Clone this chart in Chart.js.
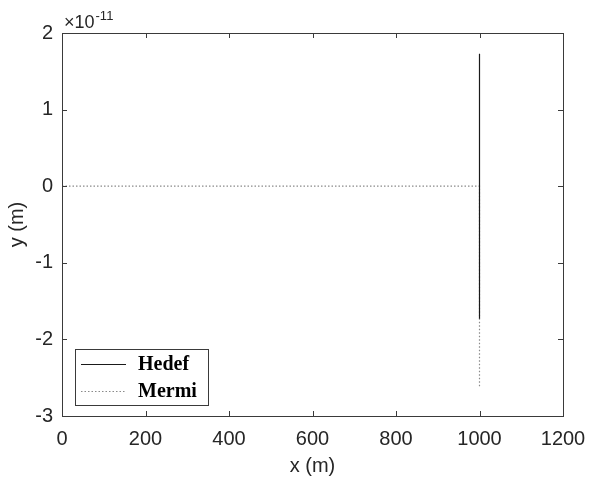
<!DOCTYPE html>
<html><head><meta charset="utf-8">
<script src="https://cdn.jsdelivr.net/npm/chart.js@4/dist/chart.umd.min.js"></script>
<style>html,body{margin:0;padding:0;background:#fff;}#wrap{width:590px;height:488px;}</style>
</head><body><div id="wrap"><canvas id="c" width="590" height="488"></canvas></div>
<script>
const seriesNames = ['Hedef', 'Mermi'];
const hedefX = [1000, 1000];
const hedefY = [1.73e-11, -1.73e-11];
const mermiX = [0, 1000, 1000];
const mermiY = [0, 0, -2.63e-11];
const xTicks = [0, 200, 400, 600, 800, 1000, 1200];
const yTicks = [-3e-11, -2e-11, -1e-11, 0, 1e-11, 2e-11];
const yExponent = -11;

const toPts = (xs, ys) => xs.map((x, i) => ({x: x, y: ys[i]}));
const SANS = '"Liberation Sans", Arial, sans-serif';

const boxPlugin = {
  id: 'box',
  afterDraw(chart) {
    const ctx = chart.ctx, a = chart.chartArea;
    const xs = chart.scales.x, ys = chart.scales.y;
    ctx.save();
    ctx.strokeStyle = '#3a3a3a';
    ctx.lineWidth = 1;
    ctx.strokeRect(Math.round(a.left) + 0.5, Math.round(a.top) + 0.5,
      Math.round(a.right - a.left), Math.round(a.bottom - a.top));
    const L = 5;
    ctx.beginPath();
    xTicks.forEach(v => {
      const p = Math.round(xs.getPixelForValue(v)) + 0.5;
      ctx.moveTo(p, a.bottom); ctx.lineTo(p, a.bottom - L);
      ctx.moveTo(p, a.top); ctx.lineTo(p, a.top + L);
    });
    yTicks.forEach(v => {
      const p = Math.round(ys.getPixelForValue(v)) + 0.5;
      ctx.moveTo(a.left, p); ctx.lineTo(a.left + L, p);
      ctx.moveTo(a.right, p); ctx.lineTo(a.right - L, p);
    });
    ctx.stroke();
    // exponent label
    ctx.fillStyle = '#262626';
    ctx.textBaseline = 'alphabetic';
    ctx.textAlign = 'left';
    ctx.font = '18px ' + SANS;
    const bx = a.left + 2, by = 28;
    ctx.fillText('\u00d710', bx, by);
    const w = ctx.measureText('\u00d710').width;
    ctx.font = '13px ' + SANS;
    ctx.fillText(String(yExponent), bx + w + 1, by - 8);
    // legend
    const lx = 75, ly = 349, lw = 133, lh = 56;
    ctx.fillStyle = '#fff';
    ctx.fillRect(lx, ly, lw, lh);
    ctx.strokeStyle = '#3a3a3a';
    ctx.lineWidth = 1;
    ctx.strokeRect(lx + 0.5, ly + 0.5, lw, lh);
    const rows = [364, 391];
    chart.data.datasets.forEach((ds, i) => {
      ctx.beginPath();
      ctx.strokeStyle = ds.borderColor;
      ctx.lineWidth = ds.borderWidth;
      ctx.setLineDash(ds.borderDash || []);
      ctx.moveTo(81, rows[i] + 0.5); ctx.lineTo(126, rows[i] + 0.5);
      ctx.stroke();
      ctx.setLineDash([]);
      ctx.fillStyle = '#000';
      ctx.font = 'bold 20px "Liberation Serif", "Times New Roman", serif';
      ctx.textBaseline = 'middle';
      ctx.fillText(ds.label, 138, rows[i] + 1);
    });
    ctx.restore();
  }
};

new Chart(document.getElementById('c'), {
  type: 'scatter',
  data: {
    datasets: [
      { label: seriesNames[0], data: toPts(hedefX, hedefY), showLine: true,
        borderColor: '#1a1a1a', borderWidth: 1.2, pointRadius: 0, fill: false },
      { label: seriesNames[1], data: toPts(mermiX, mermiY), showLine: true,
        borderColor: '#8a8a8a', borderWidth: 1.2, borderDash: [1.5, 2], pointRadius: 0, fill: false }
    ]
  },
  options: {
    responsive: false,
    animation: false,
    layout: { padding: { top: 33, right: 27, left: 0, bottom: 0 } },
    plugins: { legend: { display: false }, tooltip: { enabled: false } },
    scales: {
      x: {
        type: 'linear', min: 0, max: 1200,
        afterBuildTicks: s => { s.ticks = xTicks.map(v => ({value: v})); },
        afterFit: s => { s.height = 72; s.paddingLeft = 0; s.paddingRight = 0; },
        grid: { display: false, drawTicks: false },
        border: { display: false },
        ticks: { color: '#262626', padding: 11, maxRotation: 0,
          callback: v => String(v),
          font: { family: SANS, size: 20 } },
        title: { display: true, text: 'x (m)', color: '#262626', padding: { top: 0, bottom: 10 },
          font: { family: SANS, size: 20 } }
      },
      y: {
        type: 'linear', min: -3e-11, max: 2e-11,
        afterBuildTicks: s => { s.ticks = yTicks.map(v => ({value: v})); },
        afterFit: s => { s.width = 62; s.paddingTop = 0; s.paddingBottom = 0; },
        grid: { display: false, drawTicks: false },
        border: { display: false },
        ticks: { color: '#262626', padding: 9,
          callback: v => String(Math.round(v / Math.pow(10, yExponent))),
          font: { family: SANS, size: 20 } },
        title: { display: true, text: 'y (m)', color: '#262626', padding: { top: 5, bottom: 0 },
          font: { family: SANS, size: 20 } }
      }
    }
  },
  plugins: [boxPlugin]
});
</script>
</body></html>
